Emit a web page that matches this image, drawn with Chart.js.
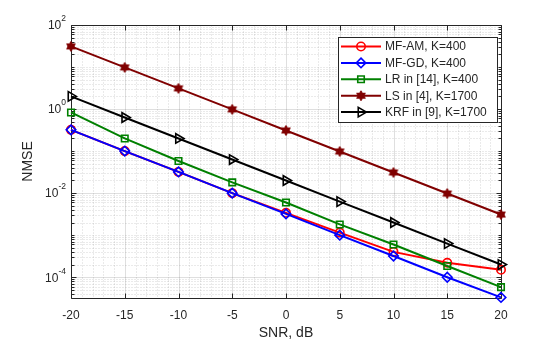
<!DOCTYPE html>
<html>
<head>
<meta charset="utf-8">
<script src="https://cdn.jsdelivr.net/npm/chart.js@4"></script>
<style>
  html, body { margin: 0; padding: 0; background: #fff; }
  #wrap { width: 554px; height: 342px; }
</style>
</head>
<body>
<div id="wrap"><canvas id="nmseChart" width="554" height="342"></canvas></div>
<script>
// values
const snr = [-20, -15, -10, -5, 0, 5, 10, 15, 20];
const mfAm = [0.32, 0.1, 0.032, 0.01, 0.0034, 0.00115, 0.0004, 0.00022, 0.00015];
const mfGd = [0.32, 0.1, 0.032, 0.01, 0.0032, 0.001, 0.00032, 0.0001, 0.000033];
const lrRef = [0.83, 0.2, 0.058, 0.018, 0.006, 0.0018, 0.0006, 0.000185, 0.000058];
const lsRef = [31, 9.8, 3.1, 0.98, 0.31, 0.098, 0.031, 0.0098, 0.0031];
const krfRef = [2, 0.63, 0.2, 0.063, 0.02, 0.0063, 0.002, 0.00063, 0.0002];
const seriesNames = ['MF-AM, K=400', 'MF-GD, K=400', 'LR in [14], K=400', 'LS in [4], K=1700', 'KRF in [9], K=1700'];
const yTickExps = [2, 0, -2, -4];

const AX = '#262626';
Chart.defaults.font.family = '"Liberation Sans", Arial, sans-serif';
Chart.defaults.color = AX;

// filled six-point star (MATLAB hexagram)
function hexagram(r, color) {
  const c = document.createElement('canvas');
  const s = Math.ceil(r * 2 + 2);
  c.width = s; c.height = s;
  const g = c.getContext('2d');
  g.fillStyle = color;
  g.strokeStyle = color;
  g.lineWidth = 1;
  for (let t = 0; t < 2; t++) {
    g.beginPath();
    for (let i = 0; i < 3; i++) {
      const a = -Math.PI / 2 + t * Math.PI + i * 2 * Math.PI / 3;
      const px = s / 2 + r * Math.cos(a), py = s / 2 + r * Math.sin(a);
      i ? g.lineTo(px, py) : g.moveTo(px, py);
    }
    g.closePath();
    g.fill();
    g.stroke();
  }
  return c;
}
const star = hexagram(5, '#800000');

const styles = [
  { color: '#ff0000', point: 'circle', r: 4.2, rot: 0 },
  { color: '#0000ff', point: 'rectRot', r: 4.8, rot: 0 },
  { color: '#008000', point: 'rect', r: 4.6, rot: 0 },
  { color: '#800000', point: star, r: 5, rot: 0 },
  { color: '#000000', point: 'triangle', r: 5.5, rot: 90 }
];
const values = [mfAm, mfGd, lrRef, lsRef, krfRef];

const datasets = values.map((v, i) => ({
  label: seriesNames[i],
  data: snr.map((s, j) => ({ x: s, y: v[j] })),
  borderColor: styles[i].color,
  backgroundColor: i === 3 ? styles[i].color : 'rgba(0,0,0,0)',
  pointBorderColor: styles[i].color,
  pointBackgroundColor: i === 3 ? styles[i].color : 'rgba(0,0,0,0)',
  pointStyle: styles[i].point,
  pointRadius: styles[i].r,
  pointRotation: styles[i].rot,
  pointBorderWidth: 1.6,
  borderWidth: 2,
  tension: 0,
  clip: false,
  order: 5 - i
}));

function drawMarker(ctx, i, x, y) {
  const st = styles[i];
  ctx.save();
  ctx.strokeStyle = st.color;
  ctx.lineWidth = 1.6;
  ctx.beginPath();
  if (st.point === 'circle') {
    ctx.arc(x, y, st.r, 0, Math.PI * 2);
    ctx.stroke();
  } else if (st.point === 'rectRot') {
    ctx.moveTo(x, y - st.r); ctx.lineTo(x + st.r, y); ctx.lineTo(x, y + st.r); ctx.lineTo(x - st.r, y); ctx.closePath();
    ctx.stroke();
  } else if (st.point === 'rect') {
    const h = st.r * Math.SQRT1_2;
    ctx.rect(x - h, y - h, 2 * h, 2 * h);
    ctx.stroke();
  } else if (st.point === 'triangle') {
    const r = st.r;
    ctx.moveTo(x + r, y);
    ctx.lineTo(x - r * 0.5, y - r * Math.sin(Math.PI / 3));
    ctx.lineTo(x - r * 0.5, y + r * Math.sin(Math.PI / 3));
    ctx.closePath();
    ctx.stroke();
  } else {
    ctx.drawImage(st.point, x - st.point.width / 2, y - st.point.height / 2);
  }
  ctx.restore();
}

const matlabAxes = {
  id: 'matlabAxes',
  beforeDatasetsDraw(chart) {
    const { ctx, chartArea: a, scales: { x, y } } = chart;
    const L = Math.round(a.left) + 0.5, R = Math.round(a.right) + 0.5;
    const T = Math.round(a.top) + 0.5, B = Math.round(a.bottom) + 0.5;
    ctx.save();
    // minor grid
    ctx.lineWidth = 1;
    ctx.strokeStyle = 'rgba(38,38,38,0.2)';
    ctx.setLineDash([1, 2]);
    ctx.beginPath();
    for (let v = x.min; v <= x.max; v++) {
      if (v % 5 === 0) continue;
      const px = Math.round(x.getPixelForValue(v)) + 0.5;
      ctx.moveTo(px, T); ctx.lineTo(px, B);
    }
    const minorY = [];
    for (let k = -6; k <= 2; k++) {
      for (let m = 1; m <= 9; m++) {
        const v = m * Math.pow(10, k);
        if (v < y.min || v > y.max) continue;
        if (m === 1 && k % 2 === 0) continue;
        minorY.push(v);
        const py = Math.round(y.getPixelForValue(v)) + 0.5;
        ctx.moveTo(L, py); ctx.lineTo(R, py);
      }
    }
    ctx.stroke();
    // major grid
    ctx.setLineDash([]);
    ctx.strokeStyle = 'rgba(38,38,38,0.15)';
    ctx.beginPath();
    for (let v = x.min + 5; v < x.max; v += 5) {
      const px = Math.round(x.getPixelForValue(v)) + 0.5;
      ctx.moveTo(px, T); ctx.lineTo(px, B);
    }
    yTickExps.forEach(k => {
      const py = Math.round(y.getPixelForValue(Math.pow(10, k))) + 0.5;
      ctx.moveTo(L, py); ctx.lineTo(R, py);
    });
    ctx.stroke();
    // box and inward ticks
    ctx.strokeStyle = AX;
    ctx.beginPath();
    ctx.rect(L, T, R - L, B - T);
    for (let v = x.min; v <= x.max; v += 5) {
      const px = Math.round(x.getPixelForValue(v)) + 0.5;
      ctx.moveTo(px, B); ctx.lineTo(px, B - 5);
      ctx.moveTo(px, T); ctx.lineTo(px, T + 5);
    }
    yTickExps.forEach(k => {
      const py = Math.round(y.getPixelForValue(Math.pow(10, k))) + 0.5;
      ctx.moveTo(L, py); ctx.lineTo(L + 5, py);
      ctx.moveTo(R, py); ctx.lineTo(R - 5, py);
    });
    minorY.forEach(v => {
      const py = Math.round(y.getPixelForValue(v)) + 0.5;
      ctx.moveTo(L, py); ctx.lineTo(L + 3, py);
      ctx.moveTo(R, py); ctx.lineTo(R - 3, py);
    });
    ctx.stroke();
    // y tick labels with superscript exponents
    ctx.fillStyle = AX;
    ctx.textBaseline = 'middle';
    yTickExps.forEach(k => {
      const py = y.getPixelForValue(Math.pow(10, k));
      const e = String(k);
      ctx.font = '8.5px "Liberation Sans", Arial, sans-serif';
      const ew = ctx.measureText(e).width;
      ctx.textAlign = 'right';
      const xr = a.left - 5;
      ctx.fillText(e, xr, py - 6);
      ctx.font = '12px "Liberation Sans", Arial, sans-serif';
      ctx.fillText('10', xr - ew, py + 1);
    });
    ctx.restore();
  },
  afterDatasetsDraw(chart) {
    const { ctx } = chart;
    const bx = 338.5, by = 37.5, bw = 159, bh = 85;
    ctx.save();
    ctx.fillStyle = '#fff';
    ctx.fillRect(bx, by, bw, bh);
    ctx.strokeStyle = AX;
    ctx.lineWidth = 1;
    ctx.strokeRect(bx, by, bw, bh);
    ctx.font = '12px "Liberation Sans", Arial, sans-serif';
    ctx.textBaseline = 'middle';
    ctx.textAlign = 'left';
    seriesNames.forEach((name, i) => {
      const yy = 46.5 + i * 16.4;
      ctx.strokeStyle = styles[i].color;
      ctx.lineWidth = 2;
      ctx.beginPath();
      ctx.moveTo(341, yy); ctx.lineTo(381, yy);
      ctx.stroke();
      drawMarker(ctx, i, 361, yy);
      ctx.fillStyle = AX;
      ctx.fillText(name, 385, yy + 0.5);
    });
    ctx.restore();
  }
};

new Chart(document.getElementById('nmseChart').getContext('2d'), {
  type: 'line',
  data: { datasets },
  options: {
    responsive: false,
    animation: false,
    layout: { padding: { left: 0, right: 53, top: 25, bottom: 0 } },
    scales: {
      x: {
        type: 'linear', min: -20, max: 20,
        grid: { display: false, drawTicks: false },
        border: { display: false },
        ticks: { stepSize: 5, padding: 10, color: AX, font: { size: 12 }, maxRotation: 0 },
        title: { display: true, text: 'SNR, dB', color: AX, font: { size: 14 }, padding: 0 },
        afterFit: s => { s.height = 44; }
      },
      y: {
        type: 'logarithmic', min: 3.2e-5, max: 100,
        grid: { display: false, drawTicks: false },
        border: { display: false },
        ticks: { display: false },
        title: { display: true, text: 'NMSE', color: AX, font: { size: 14 }, padding: 20 },
        afterFit: s => { s.width = 71; }
      }
    },
    plugins: { legend: { display: false }, tooltip: { enabled: false } }
  },
  plugins: [matlabAxes]
});
</script>
</body>
</html>
